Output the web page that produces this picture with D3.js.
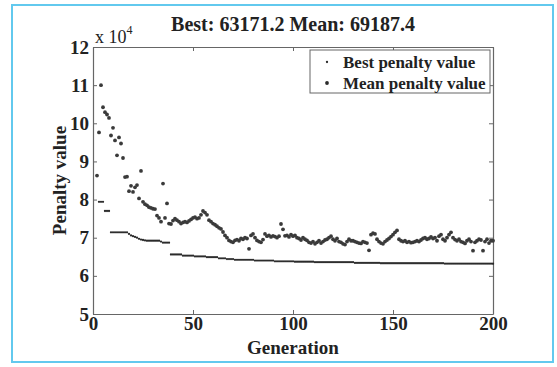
<!DOCTYPE html>
<html>
<head>
<meta charset="utf-8">
<script src="https://cdn.jsdelivr.net/npm/d3@7"></script>
<style>
  html, body { margin: 0; padding: 0; background: #fff; }
  svg { display: block; font-family: "Liberation Serif", "Times New Roman", serif; font-weight: bold; }
</style>
</head>
<body>
<svg id="chart" width="557" height="367"></svg>
<script>
// values are in units of 10^4
const bestStart = 3;
const bestValues = [
  7.94, 7.94, 7.94, 7.70, 7.70, 7.70,
  7.14, 7.14, 7.14, 7.14, 7.14, 7.14, 7.14, 7.14, 7.14,
  7.10, 7.06, 7.04, 7.02, 7.00, 6.97, 6.95, 6.94, 6.93,
  6.92, 6.92, 6.92, 6.92, 6.92, 6.92, 6.92, 6.90, 6.87, 6.87, 6.87, 6.87,
  6.56, 6.56, 6.56, 6.56, 6.56, 6.56, 6.53, 6.53, 6.53, 6.53, 6.53, 6.53,
  6.51, 6.51, 6.51, 6.51, 6.51, 6.51, 6.49, 6.49, 6.49, 6.49, 6.49, 6.49,
  6.46, 6.46, 6.46, 6.46, 6.44, 6.44, 6.44, 6.44,
  6.42, 6.42, 6.42, 6.42, 6.42, 6.42, 6.42, 6.42, 6.42, 6.42,
  6.40, 6.40, 6.40, 6.40, 6.40, 6.40, 6.40, 6.40, 6.40, 6.40,
  6.38, 6.38, 6.38, 6.38, 6.38, 6.38, 6.38, 6.38, 6.38, 6.38,
  6.37, 6.37, 6.37, 6.37, 6.37, 6.37, 6.37, 6.37, 6.37, 6.37,
  6.36, 6.36, 6.36, 6.36, 6.36, 6.36, 6.36, 6.36, 6.36, 6.36,
  6.36, 6.36, 6.36, 6.36, 6.36, 6.36, 6.36, 6.36, 6.36, 6.36,
  6.34, 6.34, 6.34, 6.34, 6.34, 6.34, 6.34, 6.34, 6.34, 6.34, 6.34, 6.34, 6.34,
  6.33, 6.33, 6.33, 6.33, 6.33, 6.33, 6.33, 6.33, 6.33, 6.33,
  6.33, 6.33, 6.33, 6.33, 6.33, 6.33, 6.33, 6.33, 6.33, 6.33,
  6.33, 6.33, 6.33, 6.33, 6.33, 6.33, 6.33, 6.33, 6.33, 6.33, 6.33, 6.33,
  6.32, 6.32, 6.32, 6.32, 6.32, 6.32, 6.32, 6.32, 6.32, 6.32,
  6.32, 6.32, 6.32, 6.32, 6.32, 6.32, 6.32, 6.32, 6.32, 6.32,
  6.32, 6.32, 6.32, 6.32, 6.317
];

const meanStart = 2;
const meanValues = [
  8.63, 9.76, 11.0, 10.42, 10.29, 10.23, 10.14, 9.68, 9.88, 9.55,
  9.16, 9.63, 9.47, 9.09, 8.59, 8.60, 8.22, 8.36, 8.20, 8.32,
  8.38, 8.03, 8.75, 7.94, 7.88, 7.85, 7.80, 7.78, 7.76, 7.75,
  7.58, 7.52, 7.42, 8.42, 7.52, 7.90, 7.37, 7.36, 7.45, 7.50,
  7.46, 7.42, 7.37, 7.40, 7.42, 7.40, 7.44, 7.48, 7.52, 7.54,
  7.50, 7.52, 7.60, 7.70, 7.66, 7.60, 7.46, 7.42, 7.37, 7.34,
  7.30, 7.26, 7.23, 7.15, 7.06, 7.00, 6.93, 6.90, 6.88, 6.93,
  6.95, 6.92, 6.98, 6.96, 7.00, 6.98, 6.71, 7.06, 7.10, 7.00,
  6.93, 6.90, 6.88, 6.95, 7.10, 7.04, 7.06, 7.02, 7.05, 7.03,
  7.00, 7.04, 7.36, 7.22, 7.05, 7.06, 7.02, 7.08, 7.04, 7.06,
  7.00, 6.98, 6.94, 7.00, 6.96, 6.93, 6.88, 6.86, 6.90, 6.84,
  6.88, 6.92, 6.86, 6.90, 6.94, 6.96, 7.00, 7.04, 6.96, 6.92,
  6.98, 6.90, 6.88, 6.84, 6.82, 6.90, 6.96, 6.92, 6.92, 6.90,
  6.88, 6.86, 6.85, 6.90, 6.88, 6.86, 6.67, 7.08, 7.12, 7.10,
  6.96, 6.90, 6.86, 6.84, 6.90, 6.94, 6.98, 7.03, 7.08, 7.14,
  7.19, 6.96, 6.92, 6.90, 6.92, 6.88, 6.90, 6.87, 6.88, 6.90,
  6.92, 6.90, 6.94, 6.98, 7.00, 6.96, 6.98, 7.02, 6.98, 7.00,
  6.92, 7.04, 7.08, 6.96, 6.92, 7.00, 7.08, 7.14, 7.00, 6.95,
  6.92, 6.96, 6.90, 6.88, 6.85, 6.92, 6.96, 6.90, 6.66, 6.88,
  6.92, 6.96, 6.94, 6.66, 6.90, 6.96, 6.86, 6.92, 6.92
];

const xTicks = [0, 50, 100, 150, 200];
const yTicks = [5, 6, 7, 8, 9, 10, 11, 12];
const titleText = "Best: 63171.2 Mean: 69187.4";
const legendLabels = ["Best penalty value", "Mean penalty value"];

const svg = d3.select("#chart");
const plotLeft = 93, plotRight = 493, plotTop = 47, plotBottom = 314;
const serif = '"Liberation Serif", "Times New Roman", serif';

const x = d3.scaleLinear().domain([0, 200]).range([plotLeft, plotRight]);
const y = d3.scaleLinear().domain([5, 12]).range([plotBottom, plotTop]);

// outer frame
svg.append("rect")
  .attr("x", 12).attr("y", 5).attr("width", 541).attr("height", 357)
  .attr("fill", "#fff").attr("stroke", "#62c9ee").attr("stroke-width", 2);

const axisColor = "#666";
const textColor = "#222";

function styleAxis(g, showText) {
  g.attr("font-family", serif);
  g.select(".domain").attr("stroke", axisColor).attr("stroke-width", 1.2);
  g.selectAll(".tick line").attr("stroke", axisColor).attr("stroke-width", 1);
  g.selectAll(".tick text")
    .attr("fill", textColor)
    .style("font-size", "19px")
    .style("font-weight", "bold")
    .style("display", showText ? null : "none");
}

svg.append("g")
  .attr("transform", `translate(0,${plotBottom})`)
  .call(d3.axisBottom(x).tickValues(xTicks).tickFormat(d3.format("d"))
    .tickSizeInner(-4).tickSizeOuter(0).tickPadding(2))
  .call(g => styleAxis(g, true));

svg.append("g")
  .attr("transform", `translate(0,${plotTop})`)
  .call(d3.axisTop(x).tickValues(xTicks).tickSizeInner(-4).tickSizeOuter(0))
  .call(g => styleAxis(g, false));

svg.append("g")
  .attr("transform", `translate(${plotLeft},0)`)
  .call(d3.axisLeft(y).tickValues(yTicks).tickFormat(d3.format("d"))
    .tickSizeInner(-4).tickSizeOuter(0).tickPadding(4))
  .call(g => styleAxis(g, true));

svg.append("g")
  .attr("transform", `translate(${plotRight},0)`)
  .call(d3.axisRight(y).tickValues(yTicks).tickSizeInner(-4).tickSizeOuter(0))
  .call(g => styleAxis(g, false));

// points
const plot = svg.append("g");

plot.selectAll(".best")
  .data(bestValues)
  .join("circle")
  .attr("class", "best")
  .attr("cx", (d, i) => x(bestStart + i))
  .attr("cy", d => y(d))
  .attr("r", 1.15)
  .attr("fill", "#2b2b2b");

plot.selectAll(".mean")
  .data(meanValues)
  .join("circle")
  .attr("class", "mean")
  .attr("cx", (d, i) => x(meanStart + i))
  .attr("cy", d => y(d))
  .attr("r", 1.9)
  .attr("fill", "#3a3a3a");

// title
svg.append("text")
  .attr("x", 293).attr("y", 31)
  .attr("text-anchor", "middle")
  .attr("fill", textColor)
  .style("font-size", "20px")
  .text(titleText);

// exponent label
const expo = svg.append("text")
  .attr("x", 95).attr("y", 43)
  .attr("fill", textColor)
  .style("font-size", "18px")
  .style("font-weight", "normal");
expo.append("tspan").text("x 10");
expo.append("tspan").attr("dy", -9).style("font-size", "12px").text("4");

// axis titles
svg.append("text")
  .attr("x", (plotLeft + plotRight) / 2).attr("y", 354)
  .attr("text-anchor", "middle")
  .attr("fill", textColor)
  .style("font-size", "19px")
  .text("Generation");

svg.append("text")
  .attr("transform", `translate(66,${(plotTop + plotBottom) / 2}) rotate(-90)`)
  .attr("text-anchor", "middle")
  .attr("fill", textColor)
  .style("font-size", "19px")
  .text("Penalty value");

// legend
const legend = svg.append("g");
legend.append("rect")
  .attr("x", 310).attr("y", 50).attr("width", 180).attr("height", 43)
  .attr("fill", "#fff").attr("stroke", axisColor).attr("stroke-width", 1);

legendLabels.forEach((label, i) => {
  const ly = 62 + i * 21;
  legend.append("circle")
    .attr("cx", 327).attr("cy", ly)
    .attr("r", i === 0 ? 1.15 : 1.9)
    .attr("fill", "#2b2b2b");
  legend.append("text")
    .attr("x", 343).attr("y", ly + 6)
    .attr("fill", textColor)
    .style("font-size", "17px")
    .text(label);
});
</script>
</body>
</html>
